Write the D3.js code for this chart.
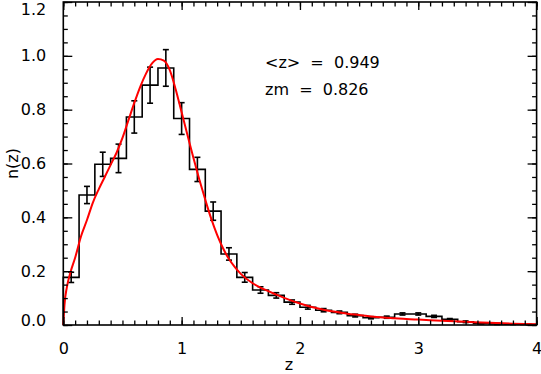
<!DOCTYPE html>
<html>
<head>
<meta charset="utf-8">
<script src="https://cdn.jsdelivr.net/npm/d3@7"></script>
<style>
  body { margin: 0; background: #fff; }
  svg { display: block; }
  text { font-family: "DejaVu Sans", sans-serif; font-size: 16px; fill: #000; }
</style>
</head>
<body>
<svg></svg>
<script>
// histogram n(z), 30 bins on 0..4
const binValues = [0.177, 0.483, 0.597, 0.619, 0.773, 0.891, 0.955, 0.767, 0.578, 0.423,
  0.264, 0.177, 0.130, 0.110, 0.085, 0.066, 0.055, 0.047, 0.035, 0.027,
  0.029, 0.041, 0.041, 0.032, 0.021, 0.012, 0.006, 0.004, 0.003, 0.002];
const binErrors = [0.019, 0.032, 0.045, 0.053, 0.060, 0.067, 0.068, 0.059, 0.045, 0.034,
  0.023, 0.018, 0.012, 0.010, 0.008, 0.007, 0.006, 0.005, 0.005, 0.004,
  0.004, 0.004, 0.004, 0.004, 0.003, 0.003, 0.002, 0.002, 0.001, 0.001];

// fitted curve (red)
const curveZ = [0, 0.01, 0.03, 0.06, 0.1, 0.15, 0.2, 0.25, 0.3, 0.35,
  0.4, 0.45, 0.5, 0.55, 0.6, 0.65, 0.7, 0.75, 0.8, 0.85,
  0.9, 0.95, 1.0, 1.05, 1.1, 1.15, 1.2, 1.25, 1.3, 1.35,
  1.4, 1.45, 1.5, 1.6, 1.7, 1.8, 1.9, 2.0, 2.1, 2.2,
  2.3, 2.4, 2.5, 2.6, 2.7, 2.8, 2.9, 3.0, 3.2, 3.4,
  3.6, 3.8, 4.0];
const curveN = [0, 0.075, 0.14, 0.195, 0.25, 0.33, 0.39, 0.455, 0.505, 0.55,
  0.595, 0.64, 0.695, 0.76, 0.825, 0.885, 0.935, 0.972, 0.988, 0.982,
  0.947, 0.875, 0.79, 0.705, 0.62, 0.54, 0.465, 0.395, 0.335, 0.285,
  0.245, 0.215, 0.19, 0.155, 0.132, 0.113, 0.095, 0.08, 0.067, 0.057,
  0.049, 0.042, 0.037, 0.032, 0.028, 0.025, 0.022, 0.02, 0.016, 0.012,
  0.008, 0.005, 0.003];

const xTicks = [0, 1, 2, 3, 4];
const yTicks = [0, 0.2, 0.4, 0.6, 0.8, 1.0, 1.2];
const notes = ['<z>  =  0.949', 'zm  =  0.826'];

const [svgWidth, svgHeight] = [541, 374];
const margin = {left: 63.3, top: 2, right: 4.4, bottom: 49};
const w = svgWidth - margin.left - margin.right;
const h = svgHeight - margin.top - margin.bottom;

const svg = d3.select('svg')
  .attr('width', svgWidth)
  .attr('height', svgHeight);
const g = svg.append('g')
  .attr('transform', `translate(${margin.left}, ${margin.top})`);

const x = d3.scaleLinear().domain([0, 4]).range([0, w]);
const y = d3.scaleLinear().domain([0, 1.2]).range([h, 0]);
const binWidth = 4 / binValues.length;

// histogram as a step line
const steps = [[0, 0]];
binValues.forEach((v, i) => {
  steps.push([i * binWidth, v]);
  steps.push([(i + 1) * binWidth, v]);
});
steps.push([4, 0]);
g.append('path')
  .attr('fill', 'none')
  .attr('stroke', 'black')
  .attr('stroke-width', 1.6)
  .attr('d', d3.line().x(d => x(d[0])).y(d => y(d[1]))(steps));

// error bars
const eb = g.append('g')
  .attr('stroke', 'black')
  .attr('stroke-width', 1.6);
binValues.forEach((v, i) => {
  const cx = x((i + 0.5) * binWidth);
  const y0 = y(v - binErrors[i]), y1 = y(v + binErrors[i]);
  eb.append('line').attr('x1', cx).attr('x2', cx).attr('y1', y0).attr('y2', y1);
  eb.append('line').attr('x1', cx - 3).attr('x2', cx + 3).attr('y1', y0).attr('y2', y0);
  eb.append('line').attr('x1', cx - 3).attr('x2', cx + 3).attr('y1', y1).attr('y2', y1);
});

// red curve
g.append('path')
  .datum(curveZ.map((z, i) => [z, curveN[i]]))
  .attr('fill', 'none')
  .attr('stroke', '#ff0000')
  .attr('stroke-width', 2)
  .attr('d', d3.line().x(d => x(d[0])).y(d => y(d[1])).curve(d3.curveMonotoneX));

// axes: ticks inward on all four sides
const axisStyle = sel => {
  sel.select('.domain').remove();
  sel.selectAll('line').attr('stroke', 'black').attr('stroke-width', 1.3);
};
const xMinor = d3.range(0, 41).map(i => i / 10);
const yMinor = d3.range(0, 25).map(i => i * 0.05);

g.append('g').attr('transform', `translate(0, ${h})`)
  .call(d3.axisBottom(x).tickValues(xMinor).tickSize(-4.5).tickFormat('')).call(axisStyle);
g.append('g').attr('transform', `translate(0, ${h})`)
  .call(d3.axisBottom(x).tickValues(xTicks).tickSize(-8).tickPadding(18).tickFormat(d3.format('d')))
  .call(axisStyle);
g.append('g')
  .call(d3.axisTop(x).tickValues(xMinor).tickSize(-4.5).tickFormat('')).call(axisStyle);
g.append('g')
  .call(d3.axisTop(x).tickValues(xTicks).tickSize(-8).tickFormat('')).call(axisStyle);

const yAxis = g.append('g')
  .call(d3.axisLeft(y).tickValues(yTicks).tickSize(-9).tickPadding(17).tickFormat(d3.format('.1f')))
  .call(axisStyle);
// end labels are pulled inside the frame, as in the original
yAxis.selectAll('.tick text')
  .attr('dy', d => d === 0 ? '-0.0em' : d === 1.2 ? '0.75em' : '0.32em');
g.append('g')
  .call(d3.axisLeft(y).tickValues(yMinor).tickSize(-4.5).tickFormat('')).call(axisStyle);
g.append('g').attr('transform', `translate(${w}, 0)`)
  .call(d3.axisRight(y).tickValues(yMinor).tickSize(-4.5).tickFormat('')).call(axisStyle);
g.append('g').attr('transform', `translate(${w}, 0)`)
  .call(d3.axisRight(y).tickValues(yTicks).tickSize(-9).tickFormat('')).call(axisStyle);

g.selectAll('.tick text')
  .attr('font-family', '"DejaVu Sans", sans-serif')
  .attr('font-size', 16)
  .attr('fill', 'black');

// frame
g.append('rect')
  .attr('width', w).attr('height', h)
  .attr('fill', 'none')
  .attr('stroke', 'black')
  .attr('stroke-width', 1.6);

// axis titles
svg.append('text')
  .attr('x', 289).attr('y', 370)
  .attr('text-anchor', 'middle')
  .text('z');
svg.append('text')
  .attr('transform', `translate(18, ${margin.top + h / 2}) rotate(-90)`)
  .attr('text-anchor', 'middle')
  .text('n(z)');

// annotations
g.selectAll('.note')
  .data(notes)
  .enter().append('text')
  .attr('class', 'note')
  .attr('x', 265 - margin.left)
  .attr('y', (d, i) => 68 - margin.top + i * 27)
  .style('white-space', 'pre')
  .text(d => d);
</script>
</body>
</html>
